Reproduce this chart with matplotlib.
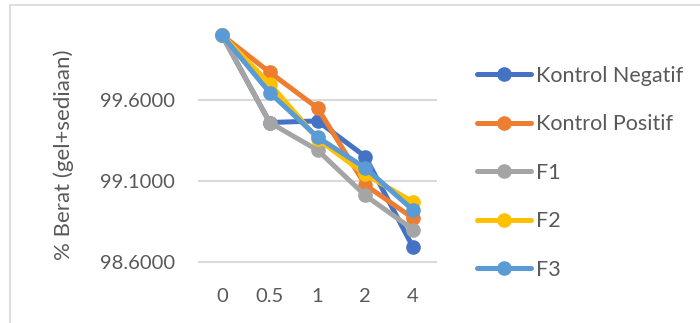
import matplotlib
matplotlib.use("Agg")
import matplotlib.pyplot as plt
from matplotlib.patches import Rectangle

categories = ["0", "0.5", "1", "2", "4"]
series_names = ["Kontrol Negatif", "Kontrol Positif", "F1", "F2", "F3"]
kontrol_negatif = [100.00, 99.46, 99.47, 99.25, 98.69]
kontrol_positif = [100.00, 99.77, 99.55, 99.075, 98.87]
f1 = [100.00, 99.46, 99.29, 99.01, 98.80]
f2 = [100.00, 99.70, 99.36, 99.14, 98.97]
f3 = [100.00, 99.645, 99.37, 99.18, 98.92]
y_ticks = [98.6, 99.1, 99.6]

colors = ["#4472C4", "#ED7D31", "#A5A5A5", "#FFC000", "#5B9BD5"]
text_color = "#595959"
plt.rcParams['font.family'] = ['Lato', 'DejaVu Sans']

fig = plt.figure(figsize=(7.0, 3.23), dpi=100)
ax = fig.add_axes([198/700, 1-284/323, 239/700, 249/323])

xs = list(range(len(categories)))
for name, vals, c in zip(series_names, [kontrol_negatif, kontrol_positif, f1, f2, f3], colors):
    ax.plot(xs, vals, color=c, lw=3.6, marker='o', ms=9.5, label=name,
            clip_on=False, solid_joinstyle='round', solid_capstyle='round')

ax.set_xlim(-0.5, len(categories) - 0.5)
ax.set_ylim(98.464, 100.0)
ax.set_xticks(xs)
ax.set_xticklabels(categories)
ax.set_yticks(y_ticks)
ax.set_yticklabels([f"{v:.4f}" for v in y_ticks])
ax.grid(axis='y', color='#D9D9D9', lw=1.5)
ax.set_axisbelow(True)
for s in ax.spines.values():
    s.set_visible(False)
ax.tick_params(axis='both', length=0, labelsize=14.5, colors=text_color)
ax.tick_params(axis='y', pad=16.5)
ax.tick_params(axis='x', pad=3)
ax.set_ylabel("% Berat (gel+sediaan)", fontsize=16, color=text_color)
ax.yaxis.set_label_coords(-0.52, 0.518)

leg = ax.legend(loc='upper left', bbox_to_anchor=(477/700, 1-66/323),
                bbox_transform=fig.transFigure, frameon=False,
                fontsize=15.5, handlelength=2.5, handletextpad=0.22,
                labelspacing=1.32, borderpad=0, borderaxespad=0)
for t in leg.get_texts():
    t.set_color(text_color)

fig.patches.append(Rectangle((10/700, -0.1), 1.2, 1 - 5/323 + 0.1, transform=fig.transFigure,
                             fill=False, edgecolor='#D9D9D9', lw=1.2, figure=fig))

fig.savefig("out.png", dpi=100)
